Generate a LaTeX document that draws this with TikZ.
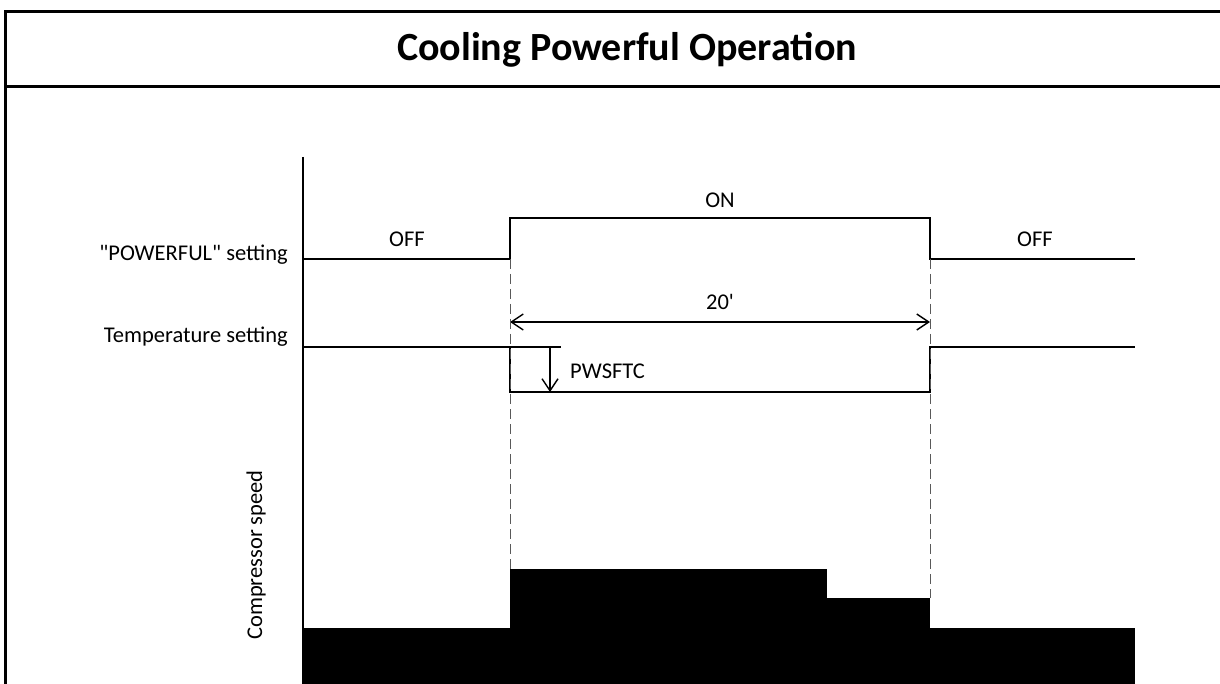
\documentclass[tikz,border=0pt]{standalone}
\usepackage{fontspec}
\setmainfont{Carlito}
\usetikzlibrary{arrows.meta,positioning}
\tikzset{
  frameline/.style={line width=3pt},
  signal/.style={line width=2pt},
  guide/.style={gray!70!black,line width=0.9pt,dash pattern=on 10pt off 5pt},
  span/.style={line width=1.4pt},
  txt/.style={font=\fontsize{22.5}{26}\selectfont,inner sep=0pt},
  rowlabel/.style={txt,anchor=base east},
}

\begin{document}
\begin{tikzpicture}[x=1pt,y=-1pt,>={Straight Barb[length=12pt,width=16pt]}]
  \useasboundingbox (0,0) rectangle (1220,684);
  % frame and title
  \draw[frameline] (5,684) -- (5,12) -- (1220,12);
  \draw[frameline] (5,87) -- (1220,87);
  \node[font=\bfseries\fontsize{40}{44}\selectfont,inner sep=0pt] (title) at (627,50) {Cooling Powerful Operation};
  % axis
  \draw[line width=2.2pt] (303,157) -- (303,684);
  % "POWERFUL" setting
  \node[rowlabel] (pwr) at (288,261) {\textquotedbl POWERFUL\textquotedbl\ setting};
  \draw[signal] (303,259) -- (510,259) -- (510,218) -- (930,218) -- (930,259) -- (1135,259);
  \node[txt,anchor=base] (offa) at (407,247) {OFF};
  \node[txt,anchor=base] (ona) at (720,208) {ON};
  \node[txt,anchor=base] (offb) at (1035,247) {OFF};
  % 20 minutes span
  \coordinate (spanL) at (510,322);
  \coordinate (spanR) at (930,322);
  \draw[span,<->] (spanL) -- (spanR);
  \node[txt,anchor=base] (mins) at (720,310) {20\textquotesingle};
  % temperature setting
  \node[rowlabel] (temp) at (288,342) {Temperature setting};
  \draw[signal] (303,347) -- (561,347);
  \draw[signal] (510,347) -- (510,392) -- (930,392) -- (930,347) -- (1135,347);
  \coordinate (dropT) at (550,347);
  \coordinate (dropB) at (550,392);
  \draw[span,->] (dropT) -- (dropB);
  \node[txt,anchor=base west] (shift) at (570,378) {PWSFTC};
  % guides
  \draw[guide] (510,259) -- (510,569);
  \draw[guide] (930,259) -- (930,598);
  % compressor speed
  \node[txt,rotate=90] (comp) at (256,555) {Compressor speed};
  \fill (303,628) rectangle (510,684);
  \fill (510,569) rectangle (827,684);
  \fill (827,598) rectangle (930,684);
  \fill (930,628) rectangle (1135,684);
\end{tikzpicture}
\end{document}
